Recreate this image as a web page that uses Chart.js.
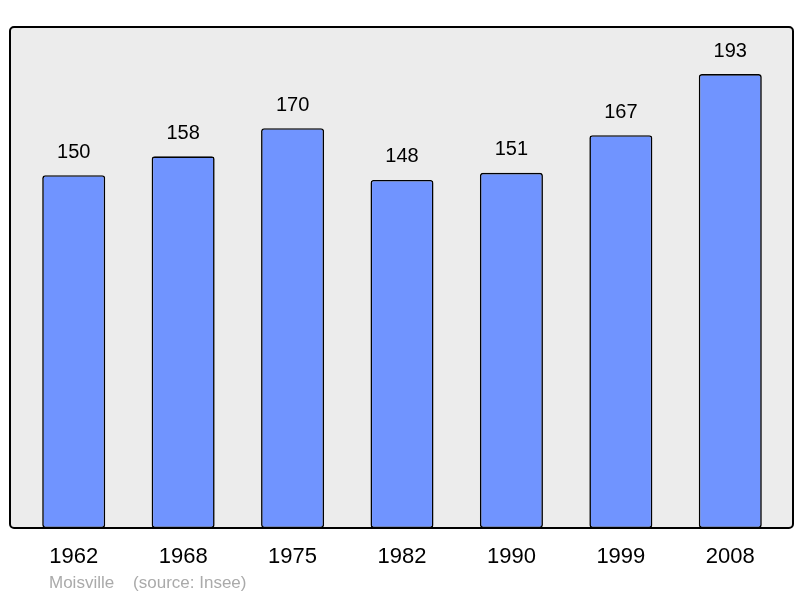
<!DOCTYPE html>
<html>
<head>
<meta charset="utf-8">
<script src="https://cdn.jsdelivr.net/npm/chart.js@4/dist/chart.umd.min.js"></script>
<style>
  html, body { margin: 0; padding: 0; background: #ffffff; }
  #wrap { position: relative; width: 800px; height: 598px; }
  #note {
    position: absolute; left: 49px; top: 573px;
    font: 17px "Liberation Sans", Arial, sans-serif; color: #aaaaaa;
    white-space: pre;
  }
</style>
</head>
<body>
<div id="wrap">
  <canvas id="chart" width="800" height="598"></canvas>
  <div id="note">Moisville    (source: Insee)</div>
</div>
<script>
'use strict';

// DATA
let years = ['1962', '1968', '1975', '1982', '1990', '1999', '2008'];
let population = [150, 158, 170, 148, 151, 167, 193];
let yMax = 213;

// panel behind the bars (gray box with black border)
const panelPlugin = {
  id: 'panel',
  beforeDraw(chart) {
    const { ctx, chartArea } = chart;
    const left = chartArea.left - 9;
    const right = chartArea.right + 8;
    const top = chartArea.top;
    const bottom = chartArea.bottom;
    ctx.save();
    ctx.beginPath();
    ctx.roundRect(left, top, right - left, bottom - top, 4);
    ctx.fillStyle = '#ececec';
    ctx.fill();
    ctx.lineWidth = 2;
    ctx.strokeStyle = '#000000';
    ctx.stroke();
    ctx.restore();
  }
};

// numbers above each bar
const valueLabels = {
  id: 'valueLabels',
  afterDatasetsDraw(chart) {
    const { ctx } = chart;
    const meta = chart.getDatasetMeta(0);
    ctx.save();
    ctx.font = '20px "Liberation Sans", Arial, sans-serif';
    ctx.fillStyle = '#000000';
    ctx.textAlign = 'center';
    ctx.textBaseline = 'middle';
    meta.data.forEach((bar, i) => {
      ctx.fillText(population[i], bar.x, bar.y - 23);
    });
    ctx.restore();
  }
};

const ctx = document.getElementById('chart');

new Chart(ctx, {
  type: 'bar',
  data: {
    labels: years,
    datasets: [{
      data: population,
      backgroundColor: '#7094ff',
      borderColor: '#000000',
      borderWidth: 1.6,
      borderRadius: 3,
      borderSkipped: false,
      barPercentage: 0.576,
      categoryPercentage: 1
    }]
  },
  options: {
    responsive: false,
    animation: false,
    layout: {
      padding: { left: 19, right: 15, top: 27, bottom: 0 }
    },
    plugins: {
      legend: { display: false },
      tooltip: { enabled: false }
    },
    scales: {
      x: {
        grid: { display: false },
        border: { display: false },
        ticks: {
          color: '#000000',
          font: { family: '"Liberation Sans", Arial, sans-serif', size: 22 },
          padding: 8
        },
        afterFit(scale) { scale.height = 70; }
      },
      y: {
        display: false,
        min: 0,
        max: yMax
      }
    }
  },
  plugins: [panelPlugin, valueLabels]
});
</script>
</body>
</html>
